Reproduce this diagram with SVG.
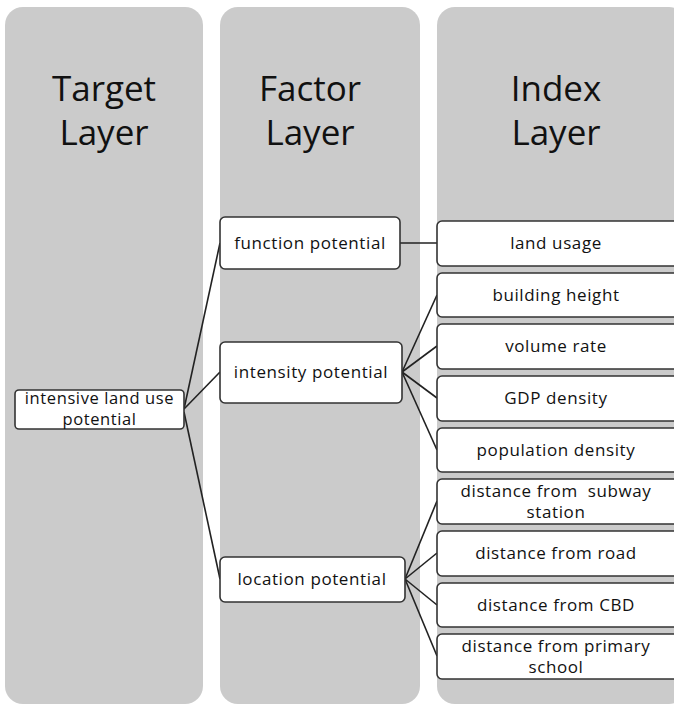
<svg xmlns="http://www.w3.org/2000/svg" width="674" height="705" viewBox="0 0 674 705">
<style>
.col{fill:#cbcbcb}
.hd{font-family:"Open Sans","Noto Sans",sans-serif;font-size:35px;fill:#111;text-anchor:middle}
.box{fill:#fff;stroke:#333;stroke-width:1.6}
.t{font-family:"Open Sans","Noto Sans",sans-serif;font-size:17px;fill:#111;text-anchor:middle;letter-spacing:0.6px}
.ln{stroke:#222;stroke-width:1.6;fill:none}
</style>
<rect width="674" height="705" fill="#fff"/>
<g id="columns">
<rect class="col" x="5" y="7" width="198" height="697" rx="18"/>
<rect class="col" x="220" y="7" width="200" height="697" rx="18"/>
<rect class="col" x="437" y="7" width="250" height="697" rx="18"/>
<text class="hd" x="104" y="101">Target</text>
<text class="hd" x="104" y="145">Layer</text>
<text class="hd" x="310" y="101">Factor</text>
<text class="hd" x="310" y="145">Layer</text>
<text class="hd" x="556" y="101">Index</text>
<text class="hd" x="556" y="145">Layer</text>
</g>
<g id="connectors">
<line class="ln" x1="184" y1="409" x2="220" y2="243"/>
<line class="ln" x1="184" y1="409" x2="220" y2="372"/>
<line class="ln" x1="184" y1="412" x2="220" y2="579"/>
<line class="ln" x1="400" y1="243" x2="437" y2="243"/>
<line class="ln" x1="402" y1="372" x2="437" y2="295"/>
<line class="ln" x1="402" y1="372" x2="437" y2="346"/>
<line class="ln" x1="402" y1="372" x2="437" y2="398"/>
<line class="ln" x1="402" y1="372" x2="437" y2="450"/>
<line class="ln" x1="405" y1="579" x2="437" y2="501"/>
<line class="ln" x1="405" y1="579" x2="437" y2="553"/>
<line class="ln" x1="405" y1="579" x2="437" y2="605"/>
<line class="ln" x1="405" y1="579" x2="437" y2="656"/>
</g>
<g id="n-intensive"><rect class="box" x="15" y="390" width="169" height="39" rx="4"/><text class="t" x="99.5" y="404" style="font-size:16.5px">intensive land use</text><text class="t" x="99.5" y="425" style="font-size:16.5px">potential</text></g>
<g id="n-function"><rect class="box" x="220" y="217" width="180" height="52" rx="5"/><text class="t" x="310" y="249">function potential</text></g>
<g id="n-intensity"><rect class="box" x="220" y="342" width="182" height="61" rx="5"/><text class="t" x="311" y="378">intensity potential</text></g>
<g id="n-location"><rect class="box" x="220" y="557" width="185" height="45" rx="5"/><text class="t" x="312" y="585">location potential</text></g>
<g id="n-land"><rect class="box" x="437" y="221" width="260" height="45" rx="5"/><text class="t" x="556" y="249">land usage</text></g>
<g id="n-building"><rect class="box" x="437" y="273" width="260" height="44" rx="5"/><text class="t" x="556" y="301">building height</text></g>
<g id="n-volume"><rect class="box" x="437" y="324" width="260" height="45" rx="5"/><text class="t" x="556" y="352">volume rate</text></g>
<g id="n-gdp"><rect class="box" x="437" y="376" width="260" height="45" rx="5"/><text class="t" x="556" y="404">GDP density</text></g>
<g id="n-population"><rect class="box" x="437" y="428" width="260" height="44" rx="5"/><text class="t" x="556" y="456">population density</text></g>
<g id="n-subway"><rect class="box" x="437" y="479" width="260" height="45" rx="5"/><text class="t" x="556" y="497" xml:space="preserve">distance from  subway</text><text class="t" x="556" y="518">station</text></g>
<g id="n-road"><rect class="box" x="437" y="531" width="260" height="45" rx="5"/><text class="t" x="556" y="559">distance from road</text></g>
<g id="n-cbd"><rect class="box" x="437" y="583" width="260" height="44" rx="5"/><text class="t" x="556" y="611">distance from CBD</text></g>
<g id="n-primary"><rect class="box" x="437" y="634" width="260" height="45" rx="5"/><text class="t" x="556" y="652">distance from primary</text><text class="t" x="556" y="673">school</text></g>
</svg>
